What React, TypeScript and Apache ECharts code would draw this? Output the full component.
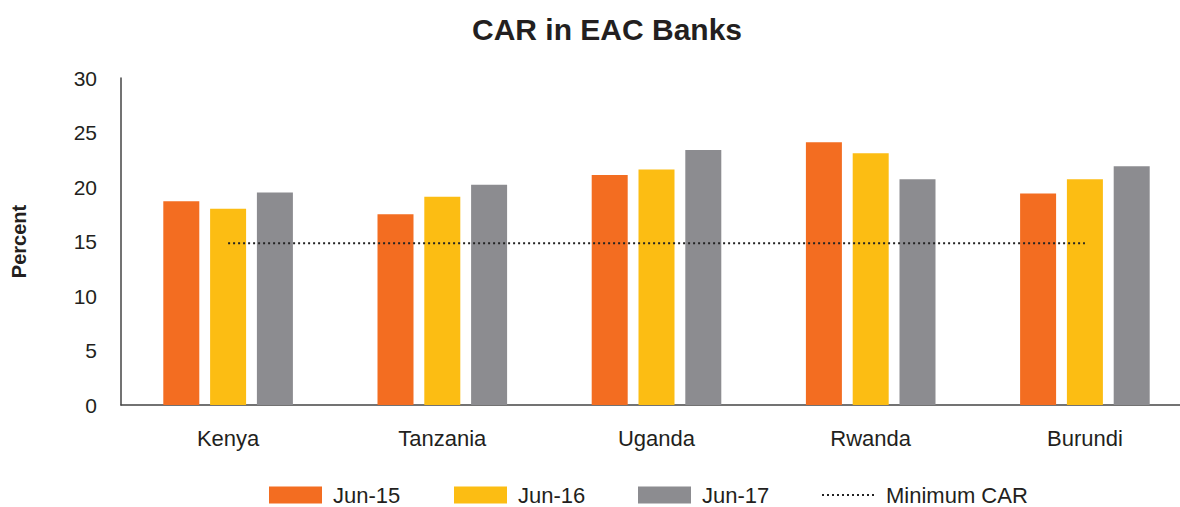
import React, { useEffect, useRef } from "react";
import * as echarts from "echarts";

const categories = ["Kenya", "Tanzania", "Uganda", "Rwanda", "Burundi"];
const jun15 = [18.7, 17.5, 21.1, 24.1, 19.4];
const jun16 = [18.0, 19.1, 21.6, 23.1, 20.7];
const jun17 = [19.5, 20.2, 23.4, 20.7, 21.9];
const minimumCar = [14.85, 14.85, 14.85, 14.85, 14.85];
const seriesNames = ["Jun-15", "Jun-16", "Jun-17", "Minimum CAR"];
const legendLefts = [269, 454, 638, 821];

const FONT = "'Liberation Sans', Arial, Helvetica, sans-serif";
const TEXT = "#231f20";

export default function App() {
  const ref = useRef<HTMLDivElement>(null);
  useEffect(() => {
    if (!ref.current) return;
    const chart = echarts.init(ref.current, null, { renderer: "svg" });
    chart.setOption({
      animation: false,
      textStyle: { fontFamily: FONT, color: TEXT },
      title: {
        text: "CAR in EAC Banks",
        left: 467,
        top: 9,
        textStyle: { fontFamily: FONT, fontSize: 30, fontWeight: "bold", color: TEXT },
      },
      legend: seriesNames.map((name, i) => ({
        left: legendLefts[i],
        top: 484,
        padding: 0,
        itemWidth: 53,
        itemHeight: 17,
        textStyle: { fontFamily: FONT, fontSize: 22, color: TEXT, padding: [0, 0, 0, 6] },
        data: [i === 3 ? { name, itemStyle: { opacity: 0 } } : { name, icon: "rect" }],
      })),
      grid: {
        left: 121,
        top: 78,
        width: 1071,
        height: 327,
        containLabel: false,
        outerBoundsMode: "none",
      },
      xAxis: {
        type: "category",
        data: categories,
        axisLine: { lineStyle: { color: "#444", width: 1.5 } },
        axisTick: { show: false },
        axisLabel: { fontFamily: FONT, fontSize: 22, color: TEXT, margin: 22 },
      },
      yAxis: {
        type: "value",
        min: 0,
        max: 30,
        interval: 5,
        name: "Percent",
        nameLocation: "middle",
        nameRotate: 90,
        nameGap: 92,
        nameTextStyle: { fontFamily: FONT, fontSize: 20, fontWeight: "bold", color: TEXT },
        axisLine: { show: true, lineStyle: { color: "#444", width: 1.5 } },
        axisTick: { show: false },
        splitLine: { show: false },
        axisLabel: { fontFamily: FONT, fontSize: 21, color: TEXT, margin: 24 },
      },
      series: [
        { name: seriesNames[0], type: "bar", data: jun15, barWidth: 36, barGap: "30%", itemStyle: { color: "#F36D21" } },
        { name: seriesNames[1], type: "bar", data: jun16, barWidth: 36, barGap: "30%", itemStyle: { color: "#FCBD13" } },
        { name: seriesNames[2], type: "bar", data: jun17, barWidth: 36, barGap: "30%", itemStyle: { color: "#8C8C90" } },
        {
          name: seriesNames[3],
          type: "line",
          data: minimumCar,
          symbol: "none",
          itemStyle: { color: "#222" },
          lineStyle: { color: "#222", width: 2, type: [2, 3] },
          z: 5,
        },
      ],
    });
    return () => chart.dispose();
  }, []);
  return (
    <div
      ref={ref}
      style={{ position: "absolute", left: 0, top: 0, width: 1180, height: 507, background: "#fff" }}
    />
  );
}
